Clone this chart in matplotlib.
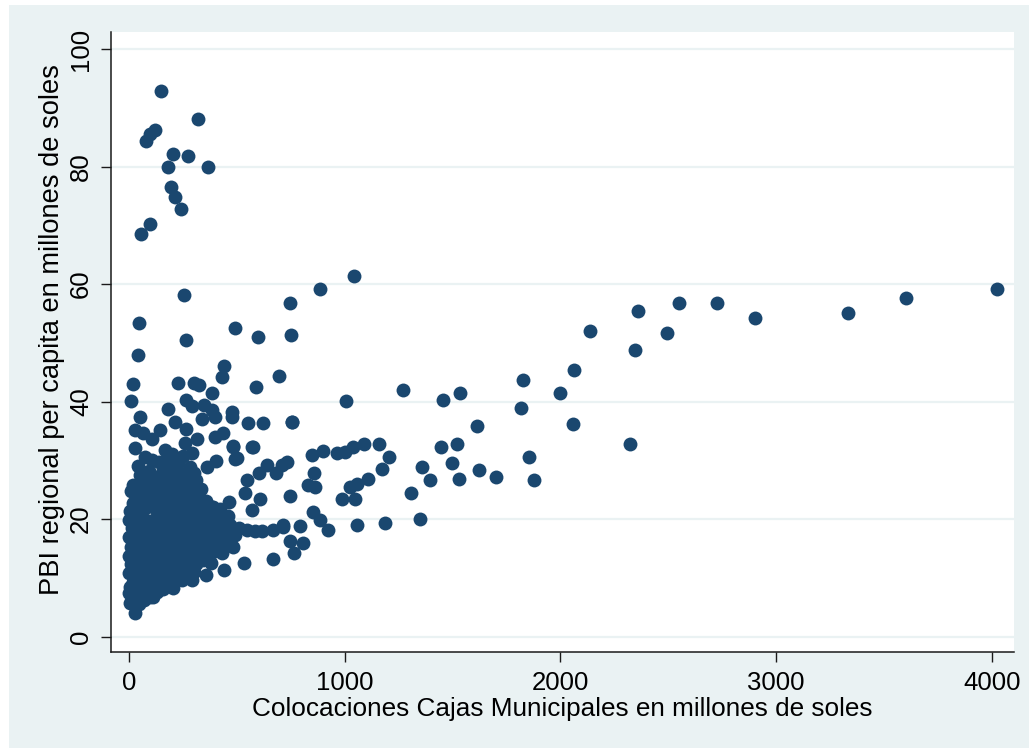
import matplotlib
matplotlib.use("Agg")
import matplotlib.pyplot as plt
from matplotlib.patches import Rectangle

# Colocaciones de Cajas Municipales (millones de soles) y PBI regional per capita
colocaciones = [
    # zona alta (PBI > 65)
    148, 320, 120, 97, 77, 205, 276, 182, 366, 195, 212, 243, 99, 56,
    # nube densa cerca del origen
    28, 5, 15, 45, 70, 100, 113,
    0, 30, 60, 90, 130, 160, 205,
    5, 20, 50, 80, 110, 140, 175, 210, 245, 291,
    0, 35, 65, 95, 125, 155, 185, 220, 255, 300, 355,
    10, 40, 75, 105, 140, 170, 200, 235, 270, 310, 345, 380, 440,
    0, 25, 55, 90, 120, 150, 185, 215, 250, 285, 320, 360, 400, 430, 533,
    8, 40, 70, 100, 135, 165, 195, 230, 265, 300, 335, 370, 410, 450, 481,
    2, 30, 60, 90, 120, 150, 180, 210, 245, 275, 310, 345, 380, 415, 455, 490,
    15, 45, 75, 105, 135, 165, 200, 230, 260, 295, 330, 365, 400, 435, 470, 510,
    545, 584, 615, 669, 715, 712,
    0, 30, 60, 95, 125, 155, 190, 220, 255, 285, 320, 350, 385, 420, 460,
    5, 40, 70, 113, 145, 175, 210, 240, 270, 305, 340, 383, 420,
    20, 62, 90, 130, 160, 195, 225, 255, 290, 320, 355, 388,
    8, 45, 74, 105, 140, 175, 205, 240, 270, 300, 335,
    20, 60, 90, 128, 160, 190, 220, 250, 283, 310,
    50, 128, 182, 236, 265, 95, 160, 210, 300,
    40, 105, 175, 229, 283, 360, 403, 75, 140, 250, 200,
    # puntos dispersos entre 30 y 62
    28, 167, 260, 291, 481, 499, 573, 28, 66, 144, 105, 399, 437, 314, 264,
    213, 337, 51, 182, 263, 291, 349, 383, 400, 476, 476, 553, 623, 757,
    12, 17, 227, 303, 326, 386, 40, 433, 442, 695, 587, 264, 46, 493, 598,
    752, 255, 745, 885, 1045,
    # tramo medio
    1006, 1271, 1454, 1445, 1497, 1357, 1395, 1307, 1349, 1187, 1058,
    1160, 1204, 1171, 1109, 1055, 1025, 1047, 986, 1091, 1040, 1001, 965,
    898, 847, 859, 862, 831, 854, 885, 924, 793, 808, 766, 666, 746, 754,
    572, 481, 493, 731, 708, 638, 604, 684, 545, 538, 607, 569, 463, 746,
    # regiones con mayor colocacion
    1536, 1612, 1522, 1531, 1622, 1701, 1825, 1815, 1854, 1877, 1999,
    2061, 2058, 2135, 2322, 2359, 2347, 2494, 2551, 2724, 2903, 3334,
    3601, 4022,
]

pbi_per_capita = [
    92.8, 88.1, 86.2, 85.5, 84.3, 82.2, 81.8, 79.9, 80.0, 76.6, 74.9, 72.7, 70.3, 68.5,
    4.1, 5.7, 6.5, 5.5, 6.2, 6.8, 6.8,
    7.5, 7.8, 7.2, 8.0, 7.6, 8.1, 8.2,
    8.5, 9.3, 9.0, 9.5, 9.0, 9.8, 9.3, 9.9, 9.6, 9.6,
    10.8, 10.5, 11.0, 10.4, 11.2, 10.7, 11.3, 10.8, 11.4, 11.0, 10.4,
    12.3, 12.0, 12.6, 12.1, 12.7, 12.2, 12.9, 12.3, 12.8, 12.4, 13.0, 12.5, 11.3,
    13.8, 13.4, 14.0, 13.5, 14.1, 13.6, 14.2, 13.7, 14.3, 13.9, 14.4, 14.0, 14.5, 14.2, 12.5,
    15.3, 15.0, 15.6, 15.1, 15.7, 15.2, 15.8, 15.3, 15.9, 15.4, 16.0, 15.6, 16.1, 15.8, 15.3,
    17.0, 16.6, 17.2, 16.7, 17.3, 16.8, 17.4, 16.9, 17.5, 17.0, 17.6, 17.1, 17.7, 17.2, 17.6, 17.3,
    18.4, 18.0, 18.6, 18.1, 18.7, 18.2, 18.8, 18.3, 18.9, 18.4, 19.0, 18.5, 19.1, 18.6, 19.0, 18.5,
    18.1, 17.9, 17.9, 18.1, 18.7, 19.0,
    19.8, 19.6, 20.1, 19.7, 20.2, 19.8, 20.3, 19.9, 20.4, 20.0, 20.5, 20.1, 20.6, 20.2, 20.5,
    21.4, 21.2, 21.7, 22.1, 21.3, 21.8, 21.4, 21.9, 21.5, 22.0, 21.6, 22.1, 21.7,
    22.8, 23.0, 22.6, 23.2, 22.8, 23.3, 22.9, 23.4, 23.0, 23.5, 23.1, 22.1,
    24.7, 24.3, 25.2, 24.5, 24.9, 24.4, 25.0, 24.6, 25.1, 24.7, 25.2,
    25.8, 26.0, 26.3, 26.0, 26.5, 26.1, 26.6, 26.2, 26.1, 26.7,
    27.5, 27.2, 26.9, 27.8, 27.6, 28.2, 28.3, 28.5, 27.8,
    29.1, 30.1, 30.1, 29.5, 28.8, 28.9, 29.9, 30.5, 29.7, 30.8, 31.0,
    32.1, 31.8, 32.9, 31.2, 32.3, 30.4, 32.2, 35.2, 34.6, 35.2, 33.7, 34.0, 34.6, 33.7, 35.3,
    36.6, 37.1, 37.3, 38.7, 40.3, 39.2, 39.4, 38.6, 37.3, 38.3, 37.4, 36.3, 36.4, 36.5,
    40.1, 43.0, 43.1, 43.2, 42.8, 41.4, 47.9, 44.2, 46.1, 44.4, 42.5, 50.5, 53.3, 52.6, 51.0,
    51.4, 58.2, 56.7, 59.1, 61.4,
    40.1, 42.0, 40.3, 32.2, 29.5, 28.9, 26.7, 24.5, 20.0, 19.3, 19.0,
    32.8, 30.5, 28.5, 26.8, 26.0, 25.5, 23.5, 23.4, 32.7, 32.3, 31.5, 31.2,
    31.6, 30.9, 27.9, 25.5, 25.8, 21.2, 19.8, 18.1, 18.9, 16.0, 14.2, 13.2, 24.0, 36.6,
    32.3, 32.5, 30.3, 29.8, 29.2, 29.2, 27.8, 27.8, 26.7, 24.4, 23.4, 21.5, 22.9, 16.2,
    41.5, 35.8, 32.7, 26.8, 28.4, 27.2, 43.6, 38.9, 30.6, 26.6, 41.5,
    45.4, 36.2, 52.0, 32.7, 55.4, 48.8, 51.7, 56.7, 56.8, 54.2, 55.1,
    57.7, 59.2,
]

x_ticks = [0, 1000, 2000, 3000, 4000]
y_ticks = [0, 20, 40, 60, 80, 100]
x_title = "Colocaciones Cajas Municipales en millones de soles"
y_title = "PBI regional per capita en millones de soles"

W, H = 1029, 748
navy = "#1A476F"
bluish = "#EAF2F3"

plt.rcParams["font.family"] = ["Liberation Sans", "DejaVu Sans"]

fig = plt.figure(figsize=(W / 100, H / 100), dpi=100, facecolor="white")
fig.patches.append(Rectangle((9 / W, 0), 1 - 9 / W, 1 - 5 / H,
                             transform=fig.transFigure, facecolor=bluish,
                             edgecolor="none", zorder=-10))

ax = fig.add_axes([111 / W, 1 - 652 / H, (1014 - 111) / W, (652 - 32) / H])
ax.set_facecolor("white")

ax.scatter(colocaciones, pbi_per_capita, s=100, color=navy, linewidths=0,
           zorder=3)

ax.set_xlim(-83, 4102)
ax.set_ylim(-2.62, 102.9)
ax.set_xticks(x_ticks)
ax.set_yticks(y_ticks)
ax.set_xticklabels([str(v) for v in x_ticks])
ax.set_yticklabels([str(v) for v in y_ticks], rotation=90, va="center")

ax.grid(axis="y", color=bluish, linewidth=1.6, zorder=0)
ax.grid(axis="x", visible=False)

for side in ("top", "right"):
    ax.spines[side].set_visible(False)
for side in ("left", "bottom"):
    ax.spines[side].set_color("#1a1a1a")
    ax.spines[side].set_linewidth(1.1)

ax.tick_params(axis="both", direction="out", length=7, width=1.0,
               color="#1a1a1a", labelsize=18.5, labelcolor="black")
ax.tick_params(axis="x", pad=7)
ax.tick_params(axis="y", pad=6)

fig.text(562 / W, 1 - 709 / H, x_title, ha="center", va="center", fontsize=18.8)
fig.text(52 / W, 1 - 330 / H, y_title, ha="center", va="center",
         rotation=90, fontsize=19.6)

fig.savefig("out.png", dpi=100, facecolor="white")
